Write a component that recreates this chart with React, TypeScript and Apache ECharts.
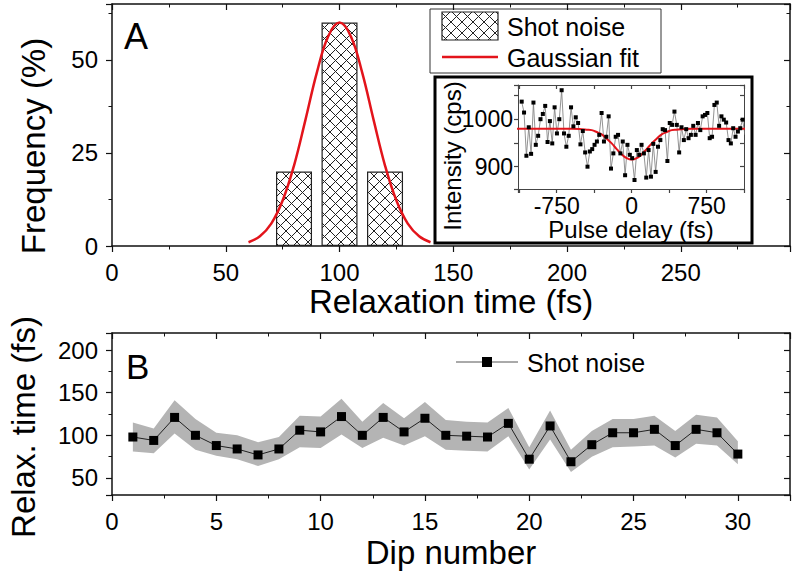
import React, { useEffect, useRef } from 'react';
import * as echarts from 'echarts';

const FONT = '"Liberation Sans", Arial, Helvetica, sans-serif';

// ---- Panel A: histogram of relaxation times ----
const HIST_CENTERS = [80, 100, 120];
const HIST_FREQ = [20, 60, 20];
// Gaussian fit curve
const FIT_X = [60, 65, 70, 75, 80, 85, 90, 95, 100, 105, 110, 115, 120, 125, 130, 135, 140];
const FIT_Y = [1.0, 2.6, 6.0, 12.2, 21.6, 33.8, 46.5, 56.3, 60, 56.3, 46.5, 33.8, 21.6, 12.2, 6.0, 2.6, 1.0];

// ---- Inset: intensity vs pulse delay ----
const INSET_DELAY = [
  -1100, -1076.5, -1053, -1029.5, -1006, -982.5, -959, -935.5, -912, -888.5, -865, -841.5,
  -818, -794.5, -771, -747.5, -724, -700.5, -677, -653.5, -630, -606.5, -583, -559.5,
  -536, -512.5, -489, -465.5, -442, -418.5, -395, -371.5, -348, -324.5, -301, -277.5,
  -254, -230.5, -207, -183.5, -160, -136.5, -113, -89.5, -66, -42.5, -19, 4.5,
  28, 51.5, 75, 98.5, 122, 145.5, 169, 192.5, 216, 239.5, 263, 286.5,
  310, 333.5, 357, 380.5, 404, 427.5, 451, 474.5, 498, 521.5, 545, 568.5,
  592, 615.5, 639, 662.5, 686, 709.5, 733, 756.5, 780, 803.5, 827, 850.5,
  874, 897.5, 921, 944.5, 968, 991.5, 1015, 1038.5, 1062, 1085.5, 1109, 1132.5,
];
const INSET_INTENSITY = [
  1037, 1014, 923, 983, 927, 1035, 946, 965, 1000, 1011, 1028, 952,
  996, 949, 1025, 970, 1000, 1061, 970, 942, 965, 1025, 985, 1004,
  992, 947, 975, 930, 900, 932, 937, 946, 953, 967, 1013, 953,
  963, 1006, 896, 928, 963, 967, 928, 953, 882, 946, 925, 918,
  872, 935, 925, 946, 928, 877, 935, 879, 948, 889, 942, 956,
  979, 977, 912, 992, 988, 1016, 988, 930, 983, 956, 979, 960,
  967, 986, 967, 992, 977, 1006, 1009, 1013, 960, 963, 1030, 1035,
  986, 1006, 999, 993, 956, 949, 981, 963, 974, 981, 999, 967,
];
const INSET_FIT_X = [-1150, -1000, -800, -600, -500, -450, -400, -350, -300, -250, -200, -150, -100, -50, 0, 50, 100, 150, 200, 250, 300, 350, 400, 450, 500, 600, 800, 1000, 1150];
const INSET_FIT_Y = [980, 980, 980, 980, 979, 978, 977, 973, 968, 959, 949, 937, 926, 918, 915, 918, 926, 937, 949, 959, 968, 973, 977, 978, 979, 980, 980, 980, 980];

// ---- Panel B: relaxation time per dip ----
const DIPS = [1, 2, 3, 4, 5, 6, 7, 8, 9, 10, 11, 12, 13, 14, 15, 16, 17, 18, 19, 20, 21, 22, 23, 24, 25, 26, 27, 28, 29, 30];
const RELAX = [98, 94, 121, 100, 88, 84, 77, 84, 106, 104, 122, 100, 121, 104, 120, 100, 99, 98, 114, 72, 111, 69, 89, 103, 103, 107, 88, 107, 103, 78];
const RELAX_UPPER = [115, 108, 141, 119, 103, 100, 92, 98, 123, 122, 143, 116, 138, 120, 139, 118, 116, 115, 132, 86, 129, 83, 105, 119, 119, 123, 105, 124, 121, 93];
const RELAX_LOWER = [81, 79, 102, 83, 76, 72, 64, 72, 86, 85, 101, 85, 97, 88, 99, 83, 82, 81, 99, 60, 95, 57, 75, 86, 87, 88, 74, 90, 88, 66];

const BLACK = '#111';
const RED = '#e3141b';

function makeHatch() {
  const c = document.createElement('canvas');
  c.width = 11;
  c.height = 11;
  const ctx = c.getContext('2d');
  if (ctx) {
    ctx.fillStyle = '#ffffff';
    ctx.fillRect(0, 0, 11, 11);
    ctx.strokeStyle = '#222';
    ctx.lineWidth = 1;
    ctx.beginPath();
    ctx.moveTo(-1, -1);
    ctx.lineTo(12, 12);
    ctx.moveTo(-1, 12);
    ctx.lineTo(12, -1);
    ctx.stroke();
  }
  return { image: c, repeat: 'repeat', imageWidth: 11, imageHeight: 11 } as any;
}

const mainLine = { show: true, onZero: false, lineStyle: { color: BLACK, width: 1.5 } };
const insetLine = { show: true, onZero: false, lineStyle: { color: '#444', width: 1 } };
const tick = (inside: boolean, color = BLACK, len = 6) => ({
  show: true,
  inside,
  length: len,
  lineStyle: { color, width: 1.2 },
});
const minor = (color = BLACK, len = 3.5) => ({ show: true, splitNumber: 2, length: len, lineStyle: { color, width: 1 } });
const label = (formatter: (v: number) => string, margin: number, size = 24) => ({
  show: true,
  formatter,
  margin,
  fontSize: size,
  fontFamily: FONT,
  color: '#000',
});
const noLabel = { show: false };
const noSplit = { show: false };

export default function App() {
  const ref = useRef<HTMLDivElement>(null);

  useEffect(() => {
    if (!ref.current) return;
    const chart = echarts.init(ref.current, undefined, { renderer: 'svg' });
    const hatch = makeHatch();

    const aX = { min: 0, max: 298, interval: 50 };
    const aY = { min: 0, max: 65, interval: 25 };
    const bX = { min: 0, max: 32.5, interval: 5 };
    const bY = { min: 30, max: 220, minInterval: 50, maxInterval: 50, splitNumber: 4 };
    const iX = { min: -1137, max: 1123, minInterval: 375, maxInterval: 375, splitNumber: 6 };
    const iY = { min: 853, max: 1072, minInterval: 50, maxInterval: 50, splitNumber: 4 };

    const option: any = {
      animation: false,
      backgroundColor: '#fff',
      grid: [
        { left: 112, right: 3, top: 4, bottom: 332 },
        { left: 112, right: 2, top: 333, bottom: 83 },
        { left: 518, right: 49, top: 85, bottom: 389 },
      ],
      xAxis: [
        {
          type: 'value', gridIndex: 0, ...aX, axisLine: mainLine, axisTick: tick(false), minorTick: minor(),
          axisLabel: label((v) => (v % 50 === 0 && v <= 250 ? String(v) : ''), 14),
          splitLine: noSplit,
          name: 'Relaxation time (fs)', nameLocation: 'middle', nameGap: 38,
          nameTextStyle: { fontSize: 33, fontFamily: FONT, color: '#000' },
        },
        {
          type: 'value', gridIndex: 0, position: 'top', ...aX, axisLine: mainLine, axisTick: tick(true), minorTick: minor(),
          axisLabel: noLabel, splitLine: noSplit,
        },
        {
          type: 'value', gridIndex: 1, ...bX, axisLine: mainLine, axisTick: tick(false), minorTick: minor(),
          axisLabel: label((v) => (v % 5 === 0 && v <= 30 ? String(v) : ''), 14),
          splitLine: noSplit,
          name: 'Dip number', nameLocation: 'middle', nameGap: 41,
          nameTextStyle: { fontSize: 33, fontFamily: FONT, color: '#000' },
        },
        {
          type: 'value', gridIndex: 1, position: 'top', ...bX, axisLine: mainLine, axisTick: tick(true), minorTick: minor(),
          axisLabel: noLabel, splitLine: noSplit,
        },
        {
          type: 'value', gridIndex: 2, ...iX, axisLine: insetLine, axisTick: tick(false, '#444', 4),
          axisLabel: label((v) => (Math.round(v) % 750 === 0 ? String(Math.round(v)) : ''), 5, 23),
          splitLine: noSplit,
          name: 'Pulse delay (fs)', nameLocation: 'middle', nameGap: 24,
          nameTextStyle: { fontSize: 24, fontFamily: FONT, color: '#000' },
        },
        {
          type: 'value', gridIndex: 2, position: 'top', ...iX, axisLine: insetLine, axisTick: tick(true, '#444', 4),
          axisLabel: noLabel, splitLine: noSplit,
        },
      ],
      yAxis: [
        {
          type: 'value', gridIndex: 0, ...aY, axisLine: mainLine, axisTick: tick(false), minorTick: minor(),
          axisLabel: label((v) => (v % 25 === 0 && v <= 50 ? String(v) : ''), 14),
          splitLine: noSplit,
        },
        {
          type: 'value', gridIndex: 0, position: 'right', ...aY, axisLine: mainLine, axisTick: tick(true), minorTick: minor(),
          axisLabel: noLabel, splitLine: noSplit,
        },
        {
          type: 'value', gridIndex: 1, ...bY, axisLine: mainLine, axisTick: tick(false), minorTick: minor(),
          axisLabel: label((v) => (v % 50 === 0 && v <= 200 ? String(v) : ''), 14),
          splitLine: noSplit,
        },
        {
          type: 'value', gridIndex: 1, position: 'right', ...bY, axisLine: mainLine, axisTick: tick(true), minorTick: minor(),
          axisLabel: noLabel, splitLine: noSplit,
        },
        {
          type: 'value', gridIndex: 2, ...iY, axisLine: insetLine, axisTick: tick(false, '#444', 4),
          axisLabel: label((v) => (v === 900 || v === 1000 ? String(v) : ''), 5, 23),
          splitLine: noSplit,
        },
        {
          type: 'value', gridIndex: 2, position: 'right', ...iY, axisLine: insetLine, axisTick: tick(true, '#444', 4),
          axisLabel: noLabel, splitLine: noSplit,
        },
      ],
      series: [
        {
          type: 'bar', xAxisIndex: 0, yAxisIndex: 0, barWidth: 36,
          data: HIST_CENTERS.map((c, i) => [c, HIST_FREQ[i]]),
          itemStyle: { color: hatch, borderColor: '#222', borderWidth: 1.2 },
          silent: true,
        },
        {
          type: 'line', xAxisIndex: 0, yAxisIndex: 0, smooth: 0.4, symbol: 'none',
          data: FIT_X.map((x, i) => [x, FIT_Y[i]]),
          lineStyle: { color: RED, width: 2.5 },
          silent: true,
        },
        {
          type: 'custom', xAxisIndex: 2, yAxisIndex: 2, silent: true,
          data: DIPS.map((d, i) => [d, RELAX_LOWER[i], RELAX_UPPER[i]]),
          encode: { x: 0, y: [1, 2] },
          renderItem: (params: any, api: any) => {
            if (params.dataIndex !== 0) return null;
            const pts: number[][] = [];
            for (let i = 0; i < DIPS.length; i++) pts.push(api.coord([DIPS[i], RELAX_UPPER[i]]));
            for (let i = DIPS.length - 1; i >= 0; i--) pts.push(api.coord([DIPS[i], RELAX_LOWER[i]]));
            return { type: 'polygon', shape: { points: pts }, style: { fill: '#b4b4b4', stroke: 'none' } };
          },
        },
        {
          type: 'line', xAxisIndex: 2, yAxisIndex: 2, symbol: 'rect', symbolSize: 9,
          data: DIPS.map((d, i) => [d, RELAX[i]]),
          itemStyle: { color: '#000' },
          lineStyle: { color: '#222', width: 1 },
          silent: true,
        },
        {
          type: 'line', xAxisIndex: 4, yAxisIndex: 4, symbol: 'rect', symbolSize: 4,
          data: INSET_DELAY.map((x, i) => [x, INSET_INTENSITY[i]]),
          itemStyle: { color: '#000' },
          lineStyle: { color: '#777', width: 0.8 },
          silent: true,
        },
        {
          type: 'line', xAxisIndex: 4, yAxisIndex: 4, smooth: 0.4, symbol: 'none',
          data: INSET_FIT_X.map((x, i) => [x, INSET_FIT_Y[i]]),
          lineStyle: { color: RED, width: 2 },
          silent: true,
        },
      ],
      graphic: [
        // y-axis titles
        {
          type: 'text', x: 33, y: 146, rotation: Math.PI / 2, silent: true,
          style: { text: 'Frequency (%)', fontSize: 33, fontFamily: FONT, fill: '#000', align: 'center', verticalAlign: 'middle' },
        },
        {
          type: 'text', x: 23, y: 427, rotation: Math.PI / 2, silent: true,
          style: { text: 'Relax. time (fs)', fontSize: 33, fontFamily: FONT, fill: '#000', align: 'center', verticalAlign: 'middle' },
        },
        {
          type: 'text', x: 452, y: 156, rotation: Math.PI / 2, silent: true,
          style: { text: 'Intensity (cps)', fontSize: 24, fontFamily: FONT, fill: '#000', align: 'center', verticalAlign: 'middle' },
        },
        // panel letters
        {
          type: 'text', x: 124, y: 36, silent: true,
          style: { text: 'A', fontSize: 36, fontFamily: FONT, fill: '#000', align: 'left', verticalAlign: 'middle' },
        },
        {
          type: 'text', x: 126, y: 366, silent: true,
          style: { text: 'B', fontSize: 35, fontFamily: FONT, fill: '#000', align: 'left', verticalAlign: 'middle' },
        },
        // inset frame
        {
          type: 'rect', silent: true, z: 0,
          shape: { x: 435, y: 77, width: 317, height: 166 },
          style: { fill: 'transparent', stroke: '#000', lineWidth: 3 },
        },
        // panel A legend
        {
          type: 'rect', silent: true,
          shape: { x: 430, y: 9, width: 231, height: 64 },
          style: { fill: '#fff', stroke: '#333', lineWidth: 1 },
        },
        {
          type: 'rect', silent: true,
          shape: { x: 442, y: 12, width: 56, height: 28 },
          style: { fill: hatch, stroke: '#222', lineWidth: 1.2 },
        },
        {
          type: 'line', silent: true,
          shape: { x1: 442, y1: 57, x2: 498, y2: 57 },
          style: { stroke: RED, lineWidth: 2.5 },
        },
        {
          type: 'text', x: 507, y: 27, silent: true,
          style: { text: 'Shot noise', fontSize: 25, fontFamily: FONT, fill: '#000', align: 'left', verticalAlign: 'middle' },
        },
        {
          type: 'text', x: 507, y: 58, silent: true,
          style: { text: 'Gaussian fit', fontSize: 25, fontFamily: FONT, fill: '#000', align: 'left', verticalAlign: 'middle' },
        },
        // panel B legend
        {
          type: 'line', silent: true,
          shape: { x1: 456, y1: 362, x2: 518, y2: 362 },
          style: { stroke: '#555', lineWidth: 1 },
        },
        {
          type: 'rect', silent: true,
          shape: { x: 482, y: 357, width: 10, height: 10 },
          style: { fill: '#000' },
        },
        {
          type: 'text', x: 527, y: 363, silent: true,
          style: { text: 'Shot noise', fontSize: 25, fontFamily: FONT, fill: '#000', align: 'left', verticalAlign: 'middle' },
        },
      ],
    };

    chart.setOption(option);
    return () => chart.dispose();
  }, []);

  return (
    <div
      ref={ref}
      style={{ position: 'fixed', left: 0, top: 0, width: 793, height: 578, background: '#fff' }}
    />
  );
}
